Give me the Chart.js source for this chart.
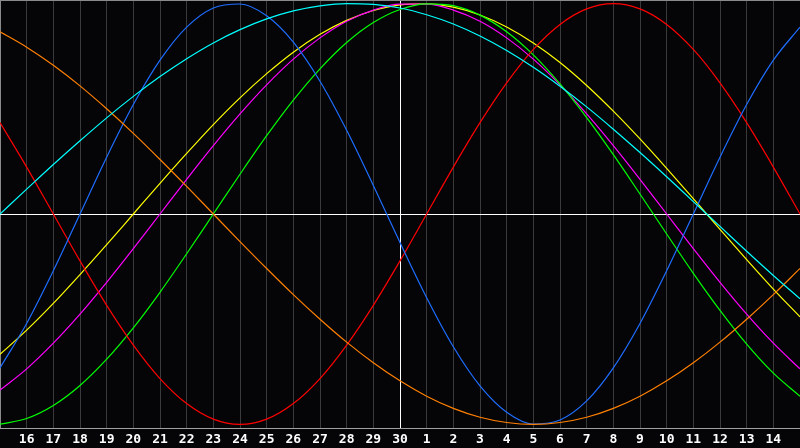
<!DOCTYPE html>
<html>
<head>
<meta charset="utf-8">
<title>Biorhythm</title>
<script src="https://cdn.jsdelivr.net/npm/chart.js@4/dist/chart.umd.min.js"></script>
<style>
    html, body { margin: 0; padding: 0; background: #050508; }
    canvas { display: block; }
</style>
</head>
<body>
<canvas id="bio" width="800" height="448"></canvas>
<script>
'use strict';

// days shown along the bottom (15 .. 30, 1 .. 15)
const days = ['15', '16', '17', '18', '19', '20', '21', '22', '23', '24', '25', '26', '27', '28', '29', '30',
    '1', '2', '3', '4', '5', '6', '7', '8', '9', '10', '11', '12', '13', '14', '15'];

// cycle values, -1 .. 1, one per day
const physical = [-0.731, -0.520, -0.270, 0.000, 0.270, 0.520, 0.731, 0.888, 0.979, 0.998, 0.942, 0.817, 0.631, 0.398, 0.136, -0.136,
    -0.398, -0.631, -0.817, -0.942, -0.998, -0.979, -0.888, -0.731, -0.520, -0.270, 0.000, 0.270, 0.520, 0.731, 0.888];
const emotional = [0.434, 0.223, 0.000, -0.223, -0.434, -0.623, -0.782, -0.901, -0.975, -1.000, -0.975, -0.901, -0.782, -0.623, -0.434, -0.223,
    0.000, 0.223, 0.434, 0.623, 0.782, 0.901, 0.975, 1.000, 0.975, 0.901, 0.782, 0.623, 0.434, 0.223, 0.000];
const intellectual = [-0.999, -0.972, -0.910, -0.815, -0.690, -0.541, -0.372, -0.189, 0.000, 0.189, 0.372, 0.541, 0.690, 0.815, 0.910, 0.972,
    0.999, 0.990, 0.945, 0.866, 0.756, 0.618, 0.458, 0.282, 0.095, -0.095, -0.282, -0.458, -0.618, -0.756, -0.866];
const intuitive = [-0.837, -0.736, -0.614, -0.476, -0.325, -0.165, 0.000, 0.165, 0.325, 0.476, 0.614, 0.736, 0.837, 0.916, 0.969, 0.997,
    0.997, 0.969, 0.916, 0.837, 0.736, 0.614, 0.476, 0.325, 0.165, 0.000, -0.165, -0.325, -0.476, -0.614, -0.736];
const aesthetic = [-0.667, -0.552, -0.425, -0.288, -0.146, 0.000, 0.146, 0.288, 0.425, 0.552, 0.667, 0.769, 0.854, 0.920, 0.967, 0.994,
    0.999, 0.983, 0.946, 0.889, 0.813, 0.720, 0.611, 0.489, 0.357, 0.217, 0.073, -0.073, -0.217, -0.357, -0.489];
const awareness = [0.866, 0.793, 0.707, 0.609, 0.500, 0.383, 0.259, 0.131, 0.000, -0.131, -0.259, -0.383, -0.500, -0.609, -0.707, -0.793,
    -0.866, -0.924, -0.966, -0.991, -1.000, -0.991, -0.966, -0.924, -0.866, -0.793, -0.707, -0.609, -0.500, -0.383, -0.259];
const spiritual = [0.000, 0.118, 0.235, 0.348, 0.457, 0.559, 0.653, 0.738, 0.813, 0.876, 0.927, 0.965, 0.989, 1.000, 0.996, 0.979,
    0.947, 0.903, 0.846, 0.777, 0.697, 0.607, 0.509, 0.403, 0.292, 0.177, 0.059, -0.059, -0.177, -0.292, -0.403];

const TODAY = 15;   // index of the "30" column
const LIMIT = 1.017;

function line(label, data, color) {
    return {
        label: label,
        data: data,
        borderColor: color,
        borderWidth: 1.2,
        pointRadius: 0,
        cubicInterpolationMode: 'monotone',
        fill: false
    };
}

new Chart(document.getElementById('bio'), {
    type: 'line',
    data: {
        labels: days,
        datasets: [
            line('Spiritual', spiritual, '#00ffff'),
            line('Awareness', awareness, '#ff8000'),
            line('Physical', physical, '#1e6eff'),
            line('Emotional', emotional, '#ff0000'),
            line('Intellectual', intellectual, '#00ff00'),
            line('Intuitive', intuitive, '#ff00ff'),
            line('Aesthetic', aesthetic, '#ffff00')
        ]
    },
    options: {
        responsive: false,
        animation: false,
        devicePixelRatio: 1,
        layout: { padding: 0 },
        plugins: {
            legend: { display: false },
            tooltip: { enabled: false }
        },
        scales: {
            x: {
                grid: {
                    drawTicks: false,
                    color: (ctx) => ctx.index === TODAY ? '#ffffff' : (ctx.index === 0 ? '#8a8a8a' : '#3a3a3a')
                },
                border: { display: false },
                ticks: {
                    autoSkip: false,
                    maxRotation: 0,
                    padding: 4,
                    color: '#ffffff',
                    font: { family: 'DejaVu Sans Mono', size: 13, weight: 'bold' },
                    callback: (val, i) => (i === 0 || i === days.length - 1) ? '' : days[i]
                },
                afterFit: (scale) => {
                    scale.height = 20;
                    scale.paddingLeft = 0;
                    scale.paddingRight = 0;
                }
            },
            y: {
                min: -LIMIT,
                max: LIMIT,
                afterBuildTicks: (scale) => {
                    scale.ticks = [{ value: -LIMIT }, { value: 0 }, { value: LIMIT }];
                },
                grid: {
                    drawTicks: false,
                    color: (ctx) => ctx.index === 1 ? '#ffffff' : (ctx.index === 0 ? '#a0a0a0' : '#8a8a8a')
                },
                border: { display: false },
                ticks: { display: false },
                afterFit: (scale) => { scale.width = 0; }
            }
        }
    }
});
</script>
</body>
</html>
